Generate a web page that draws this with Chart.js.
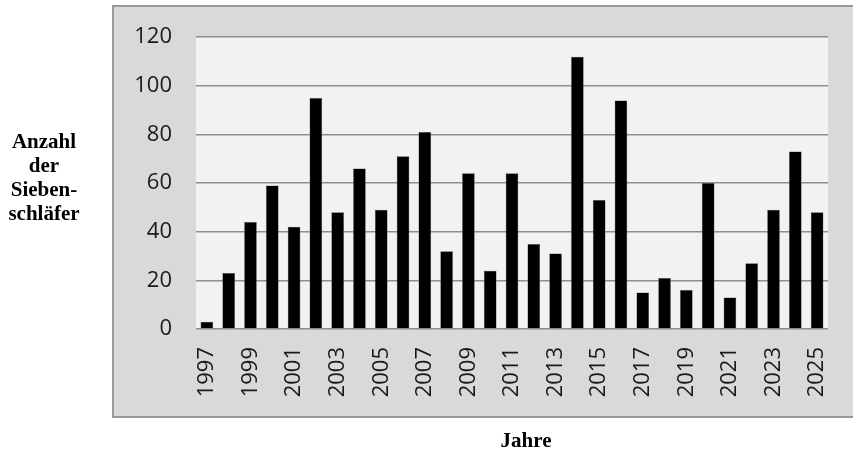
<!DOCTYPE html>
<html>
<head>
<meta charset="utf-8">
<script src="https://cdn.jsdelivr.net/npm/chart.js@4.4.1/dist/chart.umd.min.js"></script>
<style>
    html, body { margin: 0; padding: 0; background: #ffffff; }
    #wrap { position: relative; width: 853px; height: 451px; }
</style>
</head>
<body>
<div id="wrap"><canvas id="DormouseChart" width="853" height="451"></canvas></div>
<script>
const years = ['1997','1998','1999','2000','2001','2002','2003','2004','2005','2006',
               '2007','2008','2009','2010','2011','2012','2013','2014','2015','2016',
               '2017','2018','2019','2020','2021','2022','2023','2024','2025'];
const counts = [3, 23, 44, 59, 42, 95, 48, 66, 49, 71,
                81, 32, 64, 24, 64, 35, 31, 112, 53, 94,
                15, 21, 16, 60, 13, 27, 49, 73, 48];
const yTicks = [0, 20, 40, 60, 80, 100, 120];
const yTitleLines = ['Anzahl', 'der', 'Sieben-', 'schläfer'];
const xTitle = 'Jahre';

const canvas = document.getElementById('DormouseChart');
const ctx = canvas.getContext('2d');

// grey frame behind everything + light plot background
const framePlugin = {
    id: 'frame',
    beforeDraw(chart) {
        const c = chart.ctx;
        const a = chart.chartArea;
        c.save();
        c.fillStyle = '#d9d9d9';
        c.fillRect(113, 6, 740, 411);
        c.strokeStyle = '#9a9a9a';
        c.lineWidth = 2;
        c.strokeRect(113, 6, 742, 411);
        c.fillStyle = '#f2f2f2';
        c.fillRect(a.left, a.top, a.right - a.left, a.bottom - a.top);
        c.restore();
    },
    afterDraw(chart) {
        const c = chart.ctx;
        c.save();
        c.fillStyle = '#000000';
        c.font = 'bold 21px "Liberation Serif"';
        c.textAlign = 'center';
        c.textBaseline = 'alphabetic';
        yTitleLines.forEach((line, i) => {
            c.fillText(line, 44, 148 + i * 24);
        });
        c.fillText(xTitle, 526, 447);
        c.restore();
    }
};

const chart = new Chart(ctx, {
    type: 'bar',
    data: {
        labels: years,
        datasets: [{
            label: 'Anzahl der Siebenschläfer',
            data: counts,
            backgroundColor: '#000000',
            borderColor: '#555555',
            borderWidth: 0.5,
            categoryPercentage: 1.0,
            barPercentage: 0.58
        }]
    },
    options: {
        responsive: false,
        animation: false,
        layout: { padding: { left: 113, top: 36, right: 25, bottom: 0 } },
        plugins: {
            legend: { display: false },
            tooltip: { enabled: false }
        },
        scales: {
            x: {
                grid: { display: false, drawTicks: false },
                border: { display: false },
                afterFit: (scale) => {
                    scale.height = 122;
                    scale.paddingLeft = 0;
                    scale.paddingRight = 0;
                },
                ticks: {
                    autoSkip: false,
                    minRotation: 90,
                    maxRotation: 90,
                    padding: 18,
                    color: '#1a1a1a',
                    font: { size: 22, family: 'Open Sans' },
                    callback: (val, i) => (i % 2 === 0 ? years[i] : '')
                }
            },
            y: {
                min: 0,
                max: 120,
                afterBuildTicks: (scale) => { scale.ticks = yTicks.map(v => ({ value: v })); },
                afterFit: (scale) => { scale.width = 83; },
                grid: { color: '#8f8f8f', lineWidth: 1.5, drawTicks: false },
                border: { display: false },
                ticks: {
                    padding: 24,
                    color: '#1a1a1a',
                    font: { size: 22, family: 'Open Sans' }
                }
            }
        }
    },
    plugins: [framePlugin]
});
</script>
</body>
</html>
